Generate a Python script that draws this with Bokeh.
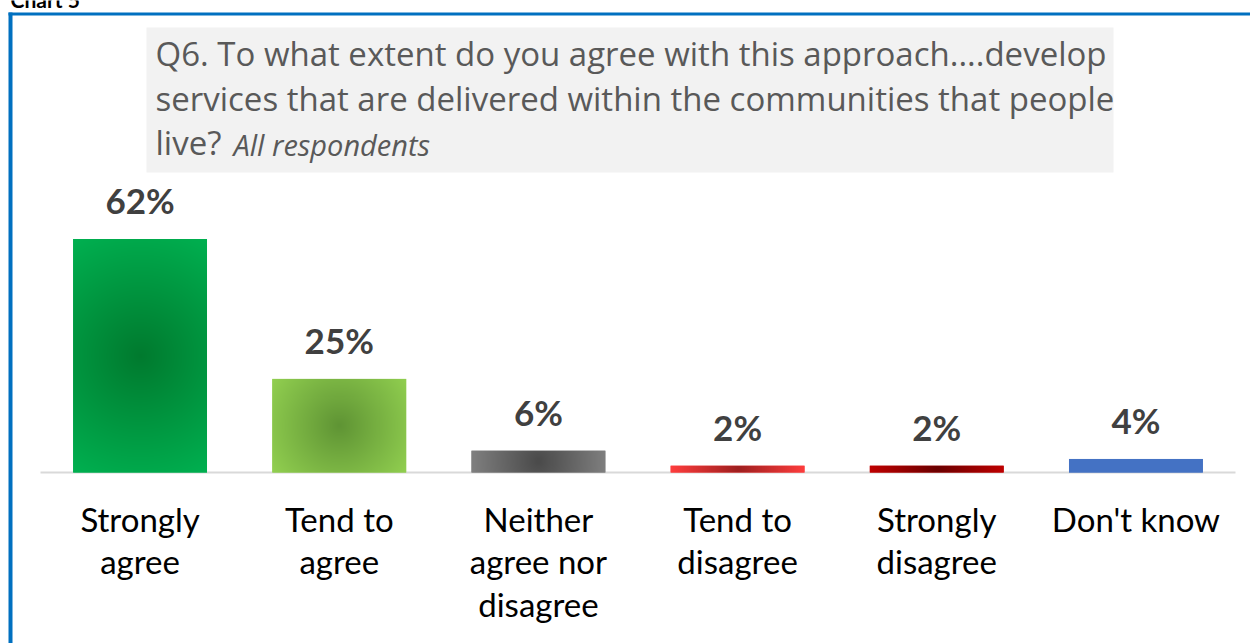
import numpy as np
from bokeh.plotting import figure
from bokeh.models import ColumnDataSource, LabelSet, Range1d
from bokeh.core.properties import value
from bokeh.embed import file_html
from bokeh.resources import INLINE

# ---------------- data ----------------
categories = ["Strongly\nagree", "Tend to\nagree", "Neither\nagree nor\ndisagree",
              "Tend to\ndisagree", "Strongly\ndisagree", "Don't know"]
values = [62.1, 24.9, 5.8, 1.8, 1.8, 3.6]
value_labels = ["62%", "25%", "6%", "2%", "2%", "4%"]
edge_colors = ["#00b050", "#92d050", "#808080", "#ff3d3d", "#c00000", "#4472c4"]
center_colors = ["#007a2e", "#5f9434", "#4a4a4a", "#9e1f1f", "#6a0000", "#4472c4"]
title_lines = ["Q6. To what extent do you agree with this approach....develop",
               "services that are delivered within the communities that people",
               "live?"]
subtitle = "All respondents"
chart_label = "Chart 5"

# ---------------- layout constants ----------------
W, H = 1250, 643
LEFT, RIGHT = 40, 15
BASE = 472
PX_PER_UNIT = 3.76
BAR_W = 0.672
FONT = "Lato"
TFONT = "Open Sans"
BL = 0.38  # empirical baseline correction (fraction of font size)

n = len(categories)
unit_x = (W - LEFT - RIGHT) / n
xs = [i + 0.5 for i in range(n)]


def dx(px):
    return (px - LEFT) / unit_x


def dy(py):
    return (BASE - py) / PX_PER_UNIT


p = figure(width=W, height=H,
           x_range=Range1d(dx(0), dx(W)), y_range=Range1d(dy(H), dy(0)),
           x_axis_location=None, y_axis_location=None,
           output_backend="svg", toolbar_location=None,
           min_border=0, min_border_left=0, min_border_right=0,
           min_border_top=0, min_border_bottom=0)
p.outline_line_color = None
p.xgrid.visible = False
p.ygrid.visible = False
p.background_fill_color = "white"
p.border_fill_color = "white"

# chart frame border & caption
p.quad(left=[dx(8), dx(8)], right=[dx(W + 2), dx(12)], top=[dy(12), dy(12)],
       bottom=[dy(15), dy(H + 2)], fill_color="#0070c0", line_color=None)
p.text(x=[dx(10)], y=[dy(7 - BL * 21)], text=[chart_label], text_font=value(FONT),
       text_font_size="21px", text_font_style="bold", text_color="black",
       text_align="left", text_baseline="alphabetic")

# title box
p.quad(left=[dx(146)], right=[dx(1113)], top=[dy(27)], bottom=[dy(172)],
       fill_color="#f2f2f2", line_color=None)
p.text(x=[dx(155)] * 3, y=[dy(66 - BL * 33), dy(110.5 - BL * 33), dy(155 - BL * 33)],
       text=title_lines, text_font=value(TFONT), text_font_size="33px",
       text_color="#595959", text_align="left", text_baseline="alphabetic")
p.text(x=[dx(233)], y=[dy(155 - BL * 29)], text=[subtitle],
       text_font=value(TFONT), text_font_size="29px", text_font_style="italic",
       text_color="#595959", text_align="left", text_baseline="alphabetic")

# baseline (category axis line)
p.segment(x0=[0], x1=[n], y0=[0], y1=[0], line_color="#d9d9d9", line_width=2)

# bars
src = ColumnDataSource(dict(x=xs, cat=categories, val=values, lab=value_labels, col=edge_colors))
p.vbar(x="x", top="val", bottom=0, width=BAR_W, source=src, fill_color="col", line_color=None)


# radial gradient shading of bars
def hex2rgb(h):
    h = h.lstrip("#")
    return np.array([int(h[i:i + 2], 16) for i in (0, 2, 4)], dtype=float)


imgs, ixs, dws, dhs = [], [], [], []
bar_px = BAR_W * unit_x
for i, v in enumerate(values):
    nx = int(round(bar_px))
    ny = max(1, int(round(v * PX_PER_UNIT)))
    gx = (np.arange(nx) + 0.5) - nx / 2
    gy = (np.arange(ny) + 0.5) - ny / 2
    X, Y = np.meshgrid(gx, gy)
    R = np.sqrt((nx / 2) ** 2 + (ny / 2) ** 2)
    t = np.clip(1 - np.sqrt(X ** 2 + Y ** 2) / R, 0, 1)
    e, c = hex2rgb(edge_colors[i]), hex2rgb(center_colors[i])
    rgb = e[None, None, :] + (c - e)[None, None, :] * t[:, :, None]
    img = np.empty((ny, nx), dtype=np.uint32)
    view = img.view(dtype=np.uint8).reshape((ny, nx, 4))
    view[:, :, 0:3] = np.round(rgb).astype(np.uint8)
    view[:, :, 3] = 255
    imgs.append(img)
    ixs.append(xs[i] - BAR_W / 2)
    dws.append(BAR_W)
    dhs.append(v)
p.image_rgba(image=imgs, x=ixs, y=[0] * n, dw=dws, dh=dhs)

# value labels
p.add_layout(LabelSet(x="x", y="val", text="lab", source=src, y_offset=25,
                      text_align="center", text_baseline="alphabetic",
                      text_font=value(FONT), text_font_size="35px",
                      text_font_style="bold", text_color="#404040"))

# category labels
p.text(x=xs, y=[dy(498)] * n, text=categories, text_font=value(FONT),
       text_font_size="33px", text_color="black", text_align="center",
       text_baseline="top", text_line_height=1.07)

open("out.html", "w").write(file_html(p, INLINE))
